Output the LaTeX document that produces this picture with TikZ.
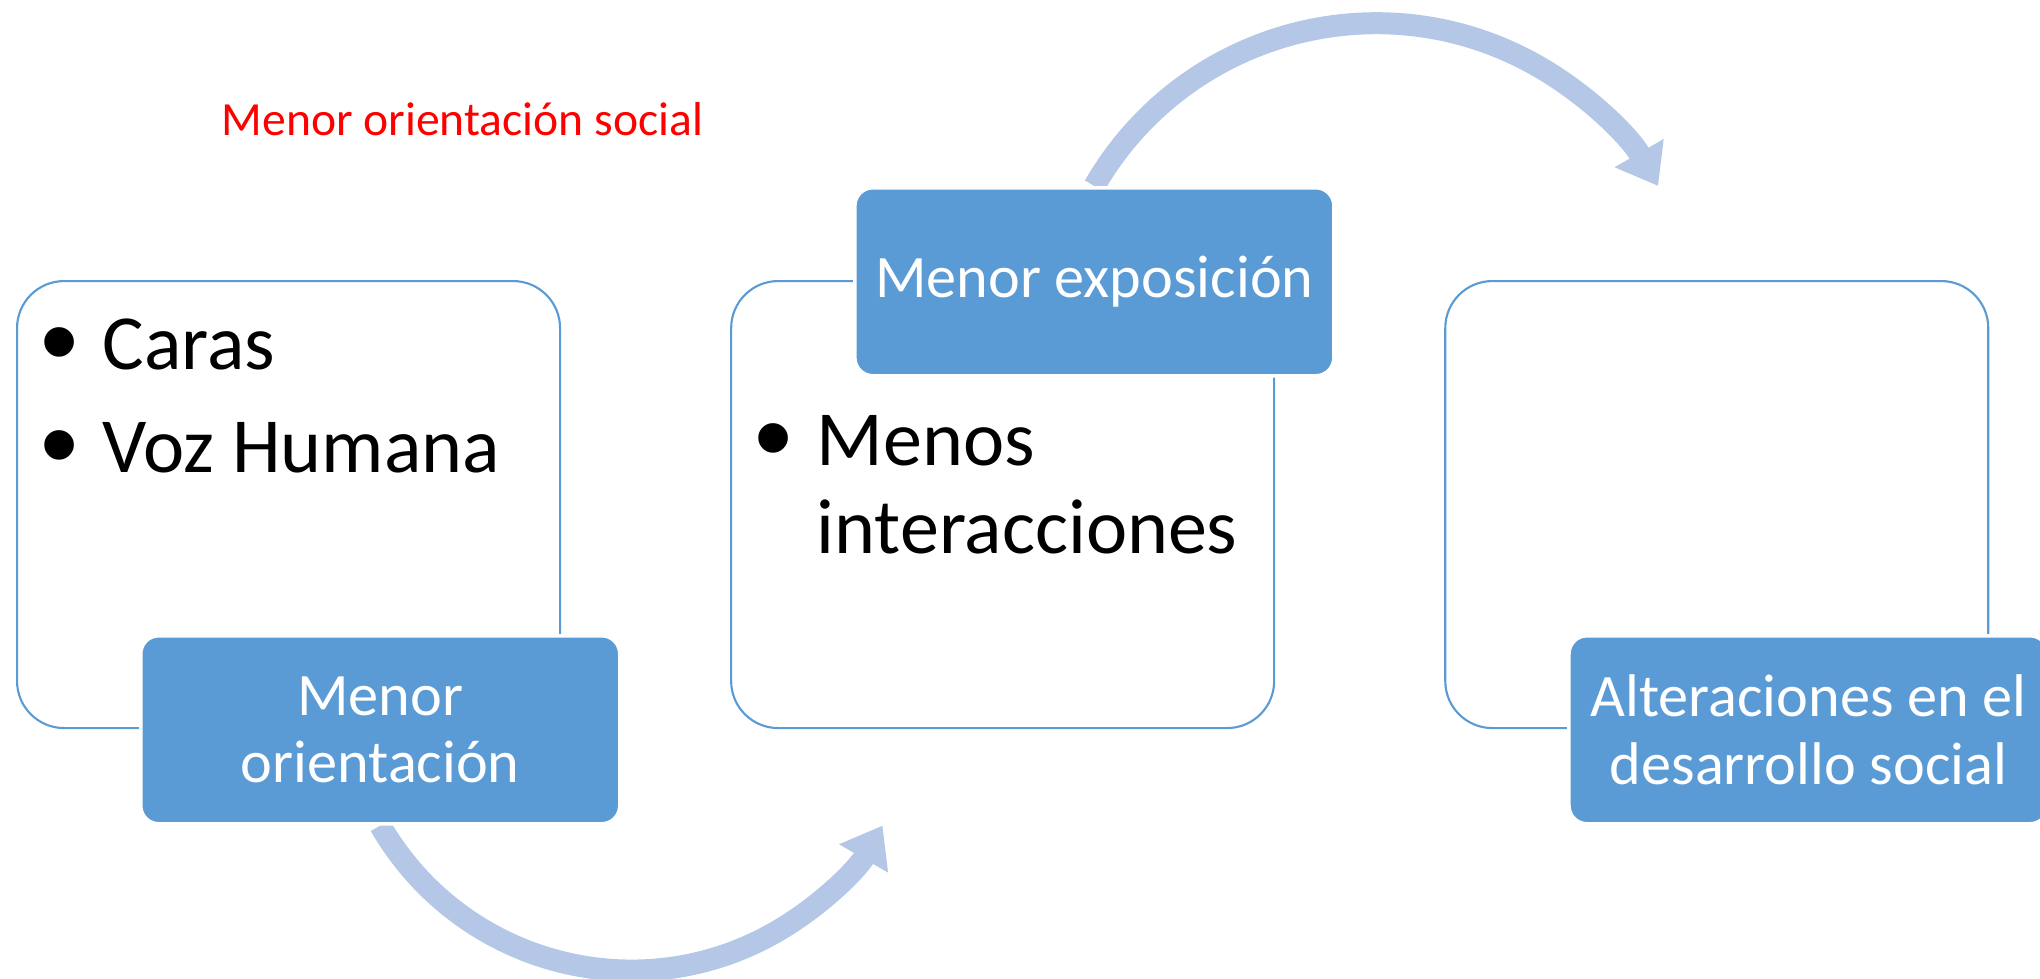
\documentclass[tikz,border=0pt]{standalone}
\usepackage{fontspec}
\setmainfont{Carlito}
\newfontfamily\bulletfont{Liberation Sans}
\usetikzlibrary{positioning,arrows.meta,backgrounds}
\definecolor{boxblue}{HTML}{5B9BD5}
\definecolor{arrowblue}{HTML}{B4C7E7}
\newcommand{\bul}{\llap{\makebox[0.86cm]{\raisebox{-0.095cm}{\bulletfont\fontsize{31}{32}\selectfont •}}}}

\begin{document}
\begin{tikzpicture}
\tikzstyle{outline}=[draw=boxblue,line width=0.6pt,fill=white,rounded corners=0.47cm,minimum width=5.43cm,minimum height=4.47cm,anchor=north west];
\tikzstyle{tag}=[draw=white,line width=1pt,fill=boxblue,text=white,rounded corners=0.18cm,minimum width=4.79cm,minimum height=1.88cm,anchor=north west,align=center,font=\fontsize{17.15}{19.1}\selectfont];
\tikzstyle{item}=[anchor=base west,inner sep=0pt,font=\fontsize{22.2}{26}\selectfont];
\tikzstyle{flow}=[arrowblue,line width=0.22cm,-{Triangle[length=0.38cm,width=0.54cm]}];
\useasboundingbox (0,0) rectangle (20.40,-9.78);
\node [anchor=base west,inner sep=0pt,text=red,font=\fontsize{13.55}{16}\selectfont] (title) at (2.21,-1.35) {Menor orientación social};
\node [outline] (caraBox) at (0.16,-2.80) {};
\node [outline,right=1.69cm of caraBox] (menosBox) {};
\node [outline,right=1.69cm of menosBox] (altBox) {};
\node [tag] (ori) at ([shift={(1.23,-3.54)}]caraBox.north west) {Menor\\orientación};
\node [tag] (expo) at ([shift={(1.23,0.94)}]menosBox.north west) {Menor exposición};
\node [tag] (alt) at ([shift={(1.23,-3.54)}]altBox.north west) {Alteraciones en el\\desarrollo social};
\node [item] (caras) at ([shift={(0.86,-0.89)}]caraBox.north west) {\bul Caras};
\node [item] (voz) at ([shift={(0.86,-1.92)}]caraBox.north west) {\bul Voz Humana};
\node [item] (menos) at ([shift={(0.86,-1.85)}]menosBox.north west) {\bul Menos};
\node [item] (inter) at ([shift={(0.86,-2.73)}]menosBox.north west) {interacciones};
\begin{scope}[on background layer]
\draw [flow] (ori.south) arc [start angle=210,end angle=330,radius=2.90cm];
\draw [flow] (expo.north) arc [start angle=150,end angle=30,radius=3.255cm];
\end{scope}
\end{tikzpicture}
\end{document}
